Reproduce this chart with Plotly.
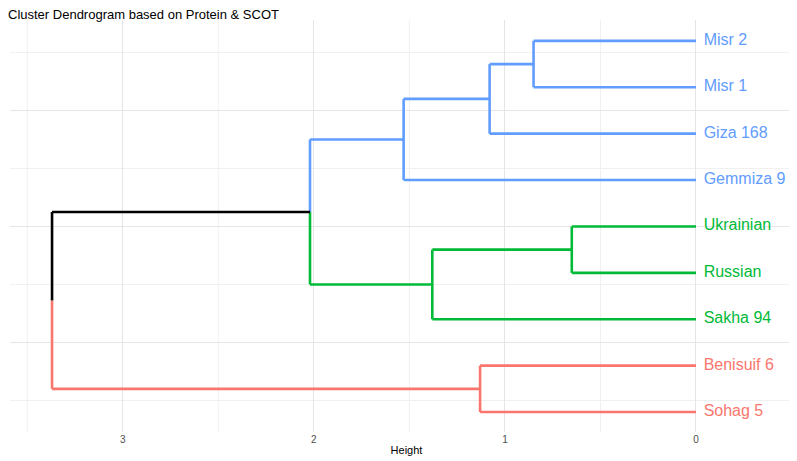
import plotly.graph_objects as go

# leaves, bottom to top
leaves = ["Sohag 5", "Benisuif 6", "Sakha 94", "Russian", "Ukrainian",
          "Gemmiza 9", "Giza 168", "Misr 1", "Misr 2"]
leaf_colors = ["#F8766D", "#F8766D", "#00BA38", "#00BA38", "#00BA38",
               "#619CFF", "#619CFF", "#619CFF", "#619CFF"]

# merge heights
h_misr = 0.85
h_giza = 1.08
h_gemmiza = 1.53
h_ukr_rus = 0.65
h_sakha = 1.38
h_blue_green = 2.02
h_red = 1.13
h_root = 3.37

BLUE, GREEN, RED, BLACK = "#619CFF", "#00BA38", "#F8766D", "#000000"

segs = {BLUE: [], GREEN: [], RED: [], BLACK: []}


def join(col, h, y1, h1, y2, h2):
    # horizontal legs from children, vertical bar at h
    segs[col].append(((h1, y1), (h, y1)))
    segs[col].append(((h2, y2), (h, y2)))
    segs[col].append(((h, y1), (h, y2)))
    return (y1 + y2) / 2


y = {n: i + 1 for i, n in enumerate(leaves)}
m1 = join(BLUE, h_misr, y["Misr 1"], 0, y["Misr 2"], 0)
m2 = join(BLUE, h_giza, y["Giza 168"], 0, m1, h_misr)
m3 = join(BLUE, h_gemmiza, y["Gemmiza 9"], 0, m2, h_giza)
g1 = join(GREEN, h_ukr_rus, y["Russian"], 0, y["Ukrainian"], 0)
g2 = join(GREEN, h_sakha, y["Sakha 94"], 0, g1, h_ukr_rus)
r1 = join(RED, h_red, y["Sohag 5"], 0, y["Benisuif 6"], 0)

# blue/green merge: leg colours follow each child, top part blue
segs[GREEN].append(((h_sakha, g2), (h_blue_green, g2)))
segs[BLUE].append(((h_gemmiza, m3), (h_blue_green, m3)))
bg = (g2 + m3) / 2
segs[GREEN].append(((h_blue_green, g2), (h_blue_green, bg)))
segs[BLUE].append(((h_blue_green, bg), (h_blue_green, m3)))

# root
segs[RED].append(((h_red, r1), (h_root, r1)))
segs[BLACK].append(((h_blue_green, bg), (h_root, bg)))
mid = (r1 + bg) / 2
segs[RED].append(((h_root, r1), (h_root, mid)))
segs[BLACK].append(((h_root, mid), (h_root, bg)))

fig = go.Figure()
for col, lst in segs.items():
    xs, ys = [], []
    for (a, b) in lst:
        xs += [a[0], b[0], None]
        ys += [a[1], b[1], None]
    fig.add_trace(go.Scatter(x=xs, y=ys, mode="lines",
                             line=dict(color=col, width=2.6),
                             hoverinfo="skip", showlegend=False))

fig.add_trace(go.Scatter(x=[-0.04] * len(leaves), y=list(range(1, len(leaves) + 1)),
                         mode="text", text=leaves, textposition="middle right",
                         textfont=dict(size=16, color=leaf_colors),
                         hoverinfo="skip", showlegend=False))

for v in [0.5, 1.5, 2.5, 3.5]:
    fig.add_vline(x=v, line=dict(color="#f0f0f0", width=1), layer="below")
for v in [1.25, 3.75, 6.25, 8.75]:
    fig.add_hline(y=v, line=dict(color="#f0f0f0", width=1), layer="below")

fig.update_layout(
    width=797, height=461,
    margin=dict(l=2, r=2, t=12, b=37),
    plot_bgcolor="white", paper_bgcolor="white",
    font=dict(family="Liberation Sans, Arial", color="#4d4d4d"),
    title=dict(text="Cluster Dendrogram based on Protein & SCOT",
               x=0.0, xanchor="left", y=0.995, yanchor="top",
               font=dict(size=13, color="black")),
    xaxis=dict(range=[3.59, -0.56], tickvals=[0, 1, 2, 3], ticks="",
               gridcolor="#e5e5e5", zeroline=False, showline=False,
               title=dict(text="Height", font=dict(size=11, color="black"), standoff=2),
               tickfont=dict(size=10)),
    yaxis=dict(range=[0.57, 9.45], tickvals=[2.5, 5, 7.5], showticklabels=False,
               ticks="", gridcolor="#e5e5e5", zeroline=False, showline=False),
)

fig.write_html("out.html")
